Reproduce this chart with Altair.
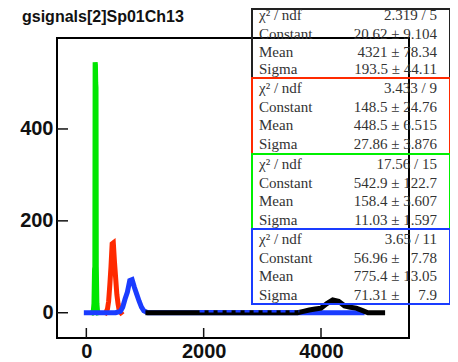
import altair as alt
import pandas as pd

# ---- histogram data ----
green_x = [100, 120, 130, 140, 145, 150, 155, 160, 165, 170, 180, 190, 200]
green_y = [0, 5, 20, 95, 100, 545, 540, 500, 490, 100, 20, 5, 0]

red_x = [330, 360, 380, 400, 420, 440, 460, 480, 500, 520, 540, 560, 590]
red_y = [0, 8, 25, 60, 100, 150, 152, 110, 75, 40, 20, 5, 0]

blue_x = [0, 500, 580, 620, 660, 700, 740, 780, 820, 860, 900, 940, 980, 1050, 4700]
blue_y = [0, 0, 3, 12, 30, 45, 70, 72, 55, 40, 25, 12, 4, 0, 0]

black_x = [1050, 3600, 3700, 3800, 3900, 4000, 4100, 4200, 4300, 4400, 4500, 4600, 4700, 4800, 5050]
black_y = [0, 0, 3, 6, 8, 10, 20, 28, 25, 15, 12, 10, 5, 0, 0]

blue_err_x = [1930, 3630]
blue_err_y = [3, 3]

x_ticks = [0, 2000, 4000]
y_ticks = [0, 200, 400]

title_text = "gsignals[2]Sp01Ch13"

box_colors = ["#222222", "#ff2a00", "#00f000", "#1a3cff"]
row_labels = ["\u03c7\u00b2 / ndf", "Constant", "Mean", "Sigma"]
box_values = [
    ["2.319 / 5", "20.62 \u00b1 9.104", "4321 \u00b1 78.34", "193.5 \u00b1 44.11"],
    ["3.433 / 9", "148.5 \u00b1 24.76", "448.5 \u00b1 6.515", "27.86 \u00b1 3.876"],
    ["17.56 / 15", "542.9 \u00b1 122.7", "158.4 \u00b1 3.607", "11.03 \u00b1 1.597"],
    ["3.65 / 11", "56.96 \u00b1\u00a0\u00a0\u00a07.78", "775.4 \u00b1 13.05", "71.31 \u00b1\u00a0\u00a0\u00a0\u00a0\u00a07.9"],
]

XDOM = [-500, 5500]
YDOM = [-55, 598]
W, H = 352, 300

xs = alt.Scale(domain=XDOM, nice=False, zero=False)
ys = alt.Scale(domain=YDOM, nice=False, zero=False)

axis_common = dict(labelFont="Liberation Sans", labelFontWeight="bold", labelFontSize=20,
                   labelColor="#111111", domain=False, ticks=False, grid=False, title=None,
                   format="d", labelFlush=False, labelOverlap=False)
x_axis = alt.Axis(values=x_ticks, labelPadding=3, **axis_common)
y_axis = alt.Axis(values=y_ticks, labelPadding=4, **axis_common)


def hist_layer(xv, yv, color, width=5, dash=None):
    df = pd.DataFrame({"x": xv, "y": yv})
    kw = dict(color=color, strokeWidth=width, clip=True, strokeCap="square")
    if dash:
        kw["strokeDash"] = dash
        kw["strokeCap"] = "butt"
    return alt.Chart(df).mark_line(**kw).encode(
        x=alt.X("x:Q", scale=xs, axis=x_axis),
        y=alt.Y("y:Q", scale=ys, axis=y_axis))


layers = [
    hist_layer(green_x, green_y, "#00e600"),
    hist_layer(red_x, red_y, "#ff2a00"),
    hist_layer(blue_x, blue_y, "#1a3cff"),
    hist_layer(black_x, black_y, "#000000"),
    hist_layer(blue_err_x, blue_err_y, "#1a3cff", width=2.5, dash=[5, 4]),
]

# inside ticks (ROOT style)
ytick_df = pd.DataFrame({"y": y_ticks})
layers.append(alt.Chart(ytick_df).mark_rule(color="#111111", strokeWidth=1.5).encode(
    x=alt.value(0), x2=alt.value(11), y=alt.Y("y:Q", scale=ys, axis=y_axis)))
xtick_df = pd.DataFrame({"x": x_ticks})
layers.append(alt.Chart(xtick_df).mark_rule(color="#111111", strokeWidth=1.5).encode(
    x=alt.X("x:Q", scale=xs, axis=x_axis), y=alt.value(H - 10), y2=alt.value(H)))

one = pd.DataFrame({"a": [0]})

# title
layers.append(alt.Chart(one).mark_text(text=title_text, font="Liberation Sans", fontWeight="bold",
                                       fontSize=16, color="#111111", align="left",
                                       baseline="alphabetic").encode(
    x=alt.value(-35), y=alt.value(-16)))

# stat boxes
box_tops = [-29, 40, 116, 191, 266]
row_offsets = [[-23, -4.5, 14, 31]] + [[10 + 18.5 * r for r in range(4)]] * 3
for b in range(4):
    top, bot = box_tops[b], box_tops[b + 1]
    layers.append(alt.Chart(one).mark_rect(fill=None, fillOpacity=0, stroke=box_colors[b],
                                           strokeWidth=2).encode(
        x=alt.value(195), x2=alt.value(393), y=alt.value(top), y2=alt.value(bot)))
    for r in range(4):
        yy = row_offsets[b][r] if b == 0 else top + row_offsets[b][r]
        layers.append(alt.Chart(one).mark_text(text=row_labels[r], font="Liberation Serif",
                                               fontSize=15, color="#333333", align="left",
                                               baseline="middle").encode(
            x=alt.value(202), y=alt.value(yy)))
        layers.append(alt.Chart(one).mark_text(text=box_values[b][r], font="Liberation Serif",
                                               fontSize=15, color="#333333", align="right",
                                               baseline="middle").encode(
            x=alt.value(380), y=alt.value(yy)))

chart = alt.layer(*layers).properties(
    width=W, height=H,
    autosize=alt.AutoSizeParams(type="none"),
    padding={"left": 49, "top": 30, "right": 41, "bottom": 23},
    background="white",
).configure_view(stroke="#000000", strokeWidth=2)

chart.save("out.html", embed_options={"renderer": "svg", "actions": False})
